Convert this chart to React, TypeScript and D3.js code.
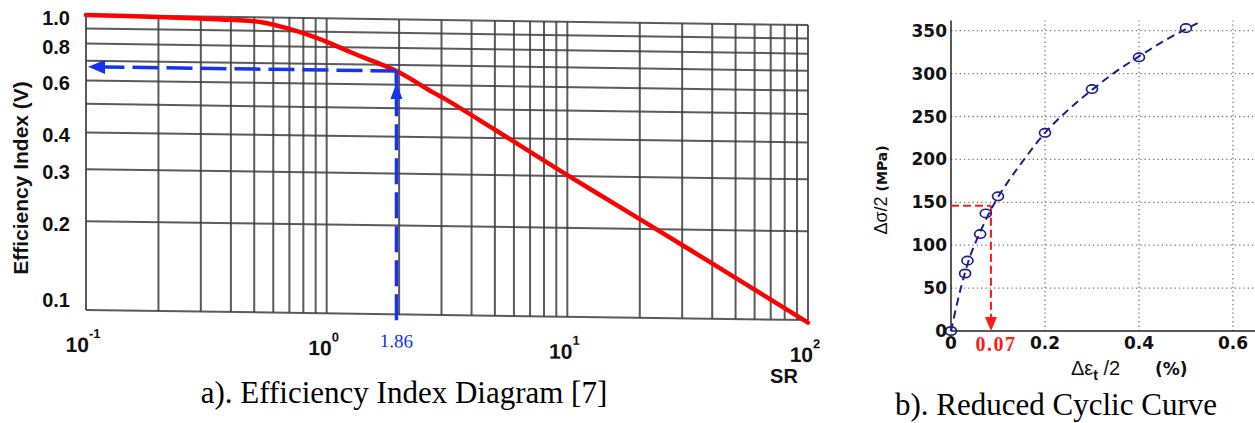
import React from "react";
import * as d3 from "d3";

// a) efficiency index diagram (log-log)
const srValues = [0.1, 0.2, 0.3, 0.4, 0.53, 0.77, 1.03, 1.28, 1.95, 2.75, 3.15, 5, 10, 20, 50, 100];
const efficiencyValues = [1.0, 0.993, 0.986, 0.978, 0.965, 0.897, 0.825, 0.765, 0.668, 0.569, 0.536, 0.427, 0.302, 0.216, 0.138, 0.098];
const efficiencyTicks = [1.0, 0.8, 0.6, 0.4, 0.3, 0.2, 0.1];
const efficiencyTickLabels = ["1.0", "0.8", "0.6", "0.4", "0.3", "0.2", "0.1"];
const srDecades = [0.1, 1, 10, 100];
const srExponents = ["-1", "0", "1", "2"];
const srMarker = 1.95;
const srMarkerLabel = "1.86";
const efficiencyMarker = 0.668;

// b) reduced cyclic curve
const strainPoints = [0, 0.03, 0.035, 0.062, 0.074, 0.1, 0.2, 0.3, 0.4, 0.5];
const stressPoints = [0, 67, 82, 113, 137, 157, 231, 282, 319, 353];
const fitStrain = [0, 0.02, 0.04, 0.06, 0.08, 0.1, 0.125, 0.15, 0.2, 0.25, 0.3, 0.35, 0.4, 0.45, 0.5, 0.525];
const fitStress = [0, 48, 86, 113, 136, 156, 177, 196, 231, 258, 281, 302, 320, 337, 352, 359];
const stressTicks = [0, 50, 100, 150, 200, 250, 300, 350];
const strainTicks = [0, 0.2, 0.4, 0.6];
const strainTickLabels = ["0", "0.2", "0.4", "0.6"];
const markerStrain = 0.085;
const markerStress = 146;
const markerLabel = "0.07";

const sans = "'Liberation Sans', Arial, sans-serif";
const wide = "'DejaVu Sans', Verdana, sans-serif";
const serif = "'Liberation Serif', 'Times New Roman', serif";

export default function App() {
  const W = 1255;
  const H = 423;

  // left chart
  const x = d3.scaleLog().domain([0.1, 100]).range([86, 808]);
  const y = d3.scaleLog().domain([0.1, 1]).range([310, 15]);
  const skew = "translate(86,0) skewY(0.8) translate(-86,0)";
  const effLine = d3
    .line<number>()
    .x((i) => x(srValues[i]))
    .y((i) => y(efficiencyValues[i]))
    .curve(d3.curveCatmullRom.alpha(0.5));
  const blue = "#1434f0";
  const mx = x(srMarker);
  const my = y(efficiencyMarker);
  const x0 = x(0.1);
  const yb = y(0.1);

  // right chart
  const xr = d3.scaleLinear().domain([0, 0.6]).range([951, 1233]);
  const yr = d3.scaleLinear().domain([0, 350]).range([331, 30.7]);
  const xrMax = 0.65;
  const yrMax = 362;
  const fitLine = d3
    .line<number>()
    .x((i) => xr(fitStrain[i]))
    .y((i) => yr(fitStress[i]))
    .curve(d3.curveCatmullRom.alpha(0.5));
  const navy = "#1e1e86";
  const red = "#ff1a1a";
  const rmx = xr(markerStrain);
  const rmy = yr(markerStress);

  return (
    <svg
      width={W}
      height={H}
      style={{ position: "absolute", left: 0, top: 0, background: "#fff" }}
    >
      {/* ---------- a) ---------- */}
      <g transform={skew}>
        {x.ticks().map((t, i) => (
          <line key={"vx" + i} x1={x(t)} x2={x(t)} y1={y(1)} y2={yb}
            stroke="#3f3f3f" strokeWidth={2} opacity={0.85} />
        ))}
        {y.ticks().map((t, i) => (
          <line key={"hy" + i} x1={x0} x2={x(100)} y1={y(t)} y2={y(t)}
            stroke="#3f3f3f" strokeWidth={2} opacity={0.85} />
        ))}
        <path d={effLine(d3.range(srValues.length)) || ""} fill="none"
          stroke="#ff0000" strokeWidth={4.5} strokeLinecap="round" />

        {/* horizontal reading arrow */}
        <line x1={mx} x2={x0 + 16} y1={my} y2={my} stroke={blue}
          strokeWidth={3.5} strokeDasharray="26,8" />
        <path d={`M${x0 + 2},${my} L${x0 + 19},${my - 7} L${x0 + 19},${my + 7} Z`} fill={blue} />
        {/* vertical reading arrow */}
        <line x1={mx} x2={mx} y1={yb + 6} y2={my} stroke={blue}
          strokeWidth={3.5} strokeDasharray="26,8" />
        <line x1={mx} x2={mx} y1={my} y2={my + 16} stroke={blue} strokeWidth={3.5} />
        <path d={`M${mx},${my + 12} L${mx - 6},${my + 28} L${mx + 6},${my + 28} Z`} fill={blue} />

        {srDecades.map((d, i) => (
          <text key={"dx" + i} x={x(d) - 3} y={yb + 42} textAnchor="middle"
            fontFamily={sans} fontWeight="bold" fontSize={21} fill="#111">
            10
            <tspan dy={-14} fontSize={13}>{srExponents[i]}</tspan>
          </text>
        ))}
        <text x={mx} y={yb + 33} textAnchor="middle" fontFamily={serif}
          fontSize={19} fill={blue}>{srMarkerLabel}</text>
      </g>

      {efficiencyTicks.map((t, i) => (
        <text key={"ey" + i} x={70} y={Math.min(y(t) + 3, 300)} textAnchor="end"
          dominantBaseline="central" fontFamily={sans} fontWeight="bold"
          fontSize={20} fill="#111">{efficiencyTickLabels[i]}</text>
      ))}
      <text transform="translate(28,178) rotate(-90)" textAnchor="middle"
        fontFamily={sans} fontWeight="bold" fontSize={21} fill="#111">
        Efficiency Index (V)
      </text>
      <text x={784} y={383} textAnchor="middle" fontFamily={sans}
        fontWeight="bold" fontSize={20} fill="#111">SR</text>
      <text x={404} y={403} textAnchor="middle" fontFamily={serif}
        fontSize={31} fill="#000">a). Efficiency Index Diagram [7]</text>

      {/* ---------- b) ---------- */}
      {strainTicks.filter((t) => t > 0).map((t, i) => (
        <line key={"gx" + i} x1={xr(t)} x2={xr(t)} y1={yr(0)} y2={yr(yrMax)}
          stroke="#777" strokeWidth={1.3} strokeDasharray="1.3,3" />
      ))}
      {stressTicks.filter((t) => t > 0).map((t, i) => (
        <line key={"gy" + i} x1={xr(0)} x2={xr(xrMax)} y1={yr(t)} y2={yr(t)}
          stroke="#777" strokeWidth={1.3} strokeDasharray="1.3,3" />
      ))}
      <line x1={xr(0)} x2={xr(0)} y1={yr(0)} y2={yr(yrMax)} stroke="#222" strokeWidth={1.5} />
      <line x1={xr(0)} x2={xr(xrMax)} y1={yr(0)} y2={yr(0)} stroke="#222" strokeWidth={1.5} />

      {/* red reading */}
      <line x1={xr(0)} x2={rmx} y1={rmy} y2={rmy} stroke={red} strokeWidth={2}
        strokeDasharray="8,4" />
      <line x1={rmx} x2={rmx} y1={rmy} y2={yr(0) - 12} stroke={red} strokeWidth={2}
        strokeDasharray="8,4" />
      <path d={`M${rmx},${yr(0)} L${rmx - 6},${yr(0) - 14} L${rmx + 6},${yr(0) - 14} Z`} fill={red} />

      <path d={fitLine(d3.range(fitStrain.length)) || ""} fill="none" stroke={navy}
        strokeWidth={2} strokeDasharray="8,5" />
      {strainPoints.map((s, i) => (
        <ellipse key={"pt" + i} cx={xr(s)} cy={yr(stressPoints[i])} rx={5.5} ry={4.2}
          fill="none" stroke={navy} strokeWidth={1.7} />
      ))}

      {stressTicks.map((t, i) => (
        <text key={"sy" + i} x={947} y={yr(t)} textAnchor="end" dominantBaseline="central"
          fontFamily={wide} fontWeight="bold" fontSize={17} fill="#111">{t}</text>
      ))}
      {strainTicks.map((t, i) => (
        <text key={"sx" + i} x={xr(t)} y={349} textAnchor="middle"
          fontFamily={wide} fontWeight="bold" fontSize={17} fill="#111">{strainTickLabels[i]}</text>
      ))}
      <text x={rmx + 5} y={351} textAnchor="middle" fontFamily={serif} fontWeight="bold"
        fontSize={20} letterSpacing={1.5} fill={red}>{markerLabel}</text>

      <text transform="translate(887,190) rotate(-90)" textAnchor="middle" fill="#111">
        <tspan fontFamily={sans} fontSize={18}>Δσ/2 </tspan>
        <tspan fontFamily={wide} fontWeight="bold" fontSize={14}>(MPa)</tspan>
      </text>
      <text x={1071} y={375} fontFamily={sans} fontSize={20} fill="#111">
        Δε<tspan dy={5} fontWeight="bold" fontSize={14}>t</tspan>
        <tspan dy={-5}> /2</tspan>
      </text>
      <text x={1155} y={375} fontFamily={wide} fontWeight="bold" fontSize={17} fill="#111">(%)</text>
      <text x={1056} y={415} textAnchor="middle" fontFamily={serif} fontSize={31}
        fill="#000">b). Reduced Cyclic Curve</text>
    </svg>
  );
}
